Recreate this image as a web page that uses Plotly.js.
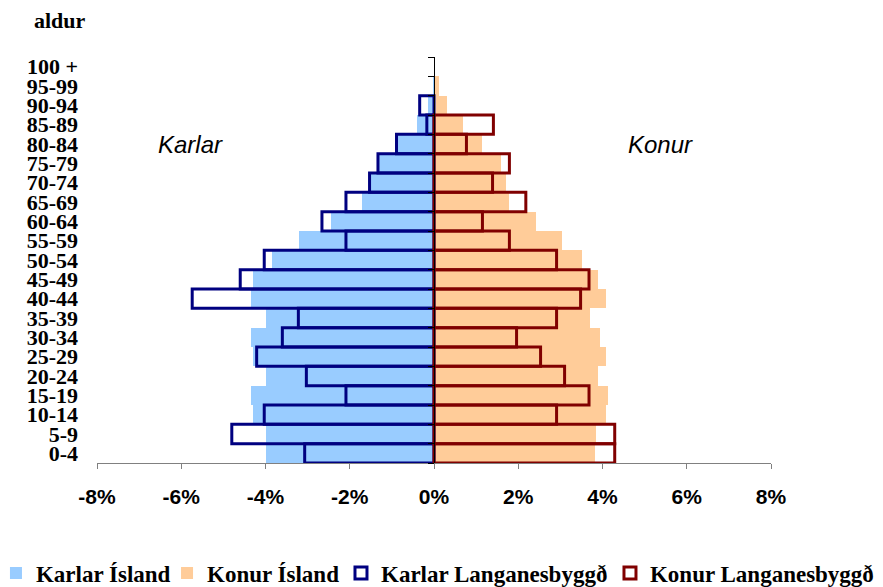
<!DOCTYPE html>
<html>
<head>
<meta charset="utf-8">
<script src="https://cdn.plot.ly/plotly-3.0.1.min.js"></script>
<style>html,body{margin:0;padding:0;background:#fff;}#chart{width:883px;height:587px;}</style>
</head>
<body>
<div id="chart"></div>
<script>
// Age groups, bottom to top
const ageGroups = ["0-4","5-9","10-14","15-19","20-24","25-29","30-34","35-39","40-44","45-49","50-54","55-59","60-64","65-69","70-74","75-79","80-84","85-89","90-94","95-99","100 +"];

// Percent of population (males negative); null = no bar
const karlarIsland = [-4.0,-4.0,-4.3,-4.35,-4.0,-4.3,-4.35,-4.0,-4.35,-4.3,-3.85,-3.2,-2.45,-1.7,-1.5,-1.3,-0.85,-0.4,-0.15,-0.03,null];
const konurIsland = [3.81,3.85,4.09,4.14,3.89,4.09,3.95,3.71,4.09,3.89,3.52,3.05,2.43,1.79,1.72,1.59,1.15,0.68,0.30,0.12,null];
const karlarLang = [-3.07,-4.8,-4.03,-2.09,-3.03,-4.21,-3.6,-3.22,-5.74,-4.6,-4.03,-2.09,-2.66,-2.09,-1.53,-1.33,-0.89,-0.17,-0.34,null,null];
const konurLang = [4.29,4.29,2.91,3.68,3.1,2.53,1.96,2.91,3.48,3.68,2.91,1.79,1.15,2.18,1.39,1.79,0.77,1.41,null,null,null];

const xTickVals = [-8,-6,-4,-2,0,2,4,6,8];
const xTickText = ["-8%","-6%","-4%","-2%","0%","2%","4%","6%","8%"];

const seriesNames = ["Karlar Ísland","Konur Ísland","Karlar Langanesbyggð","Konur Langanesbyggð"];

const serif = '"Liberation Serif","Times New Roman",serif';
const sans = '"Liberation Sans",Arial,sans-serif';

const traces = [
  {type:'bar', orientation:'h', name:seriesNames[0], y:ageGroups, x:karlarIsland, xaxis:'x', yaxis:'y', legend:'legend',
   marker:{color:'#99CCFF', line:{width:0}}, hoverinfo:'skip'},
  {type:'bar', orientation:'h', name:seriesNames[1], y:ageGroups, x:konurIsland, xaxis:'x', yaxis:'y', legend:'legend2',
   marker:{color:'#FFCC99', line:{width:0}}, hoverinfo:'skip'},
  {type:'bar', orientation:'h', name:seriesNames[2], y:ageGroups, x:karlarLang, xaxis:'x', yaxis:'y2', legend:'legend3',
   marker:{color:'rgba(255,255,255,0)', line:{color:'#000080', width:3}}, hoverinfo:'skip'},
  {type:'bar', orientation:'h', name:seriesNames[3], y:ageGroups, x:konurLang, xaxis:'x', yaxis:'y2', legend:'legend4',
   marker:{color:'rgba(255,255,255,0)', line:{color:'#800000', width:3}}, hoverinfo:'skip'}
];

function legendAt(xp) {
  return {orientation:'h', x:xp, xanchor:'left', y:-0.271, yanchor:'middle',
          font:{family:serif, size:23, color:'#000', weight:'bold'},
          bgcolor:'rgba(0,0,0,0)', borderwidth:0, itemclick:false, itemdoubleclick:false};
}

const layout = {
  width:883, height:587,
  margin:{l:97, r:112, t:57, b:124, pad:0, autoexpand:false},
  paper_bgcolor:'#fff', plot_bgcolor:'rgba(0,0,0,0)',
  barmode:'overlay', bargap:0,
  showlegend:true,
  legend:legendAt(-0.1499),
  legend2:legendAt(0.1039),
  legend3:legendAt(0.3620),
  legend4:legendAt(0.7611),
  xaxis:{range:[-8,8], tickvals:xTickVals, ticktext:xTickText, showgrid:false, zeroline:false,
         showline:true, linecolor:'#808080', linewidth:1, ticks:'outside', ticklen:5, tickcolor:'#808080',
         ticklabelstandoff:10,
         tickfont:{family:sans, size:21, color:'#000', weight:'bold'}, fixedrange:true},
  yaxis:{type:'category', categoryorder:'array', categoryarray:ageGroups, range:[-0.5,20.5],
         tickmode:'linear', tick0:0, dtick:1,
         showgrid:false, zeroline:false, showline:false, ticks:'', ticklabelstandoff:18,
         tickfont:{family:serif, size:22, color:'#000', weight:'bold'}, fixedrange:true},
  yaxis2:{type:'category', categoryorder:'array', categoryarray:ageGroups, range:[-0.5,20.5],
          overlaying:'y', anchor:'free', position:0.5, side:'left',
          tickmode:'linear', tick0:0, dtick:1,
          showgrid:false, zeroline:false, showline:true, linecolor:'#000', linewidth:1,
          ticks:'outside', ticklen:6, tickcolor:'#000', tickson:'boundaries', showticklabels:false, fixedrange:true},
  annotations:[
    {text:'aldur', xref:'paper', yref:'paper', x:-0.055, y:1.0887, xanchor:'center', yanchor:'middle', showarrow:false,
     font:{family:serif, size:22, color:'#000', weight:'bold'}},
    {text:'<i>Karlar</i>', xref:'x', yref:'y', x:-5.78, y:'80-84', xanchor:'center', yanchor:'middle', showarrow:false,
     font:{family:sans, size:24, color:'#000'}},
    {text:'<i>Konur</i>', xref:'x', yref:'y', x:5.38, y:'80-84', xanchor:'center', yanchor:'middle', showarrow:false,
     font:{family:sans, size:24, color:'#000'}}
  ]
};

Plotly.newPlot('chart', traces, layout, {displayModeBar:false, staticPlot:true});
</script>
</body>
</html>
